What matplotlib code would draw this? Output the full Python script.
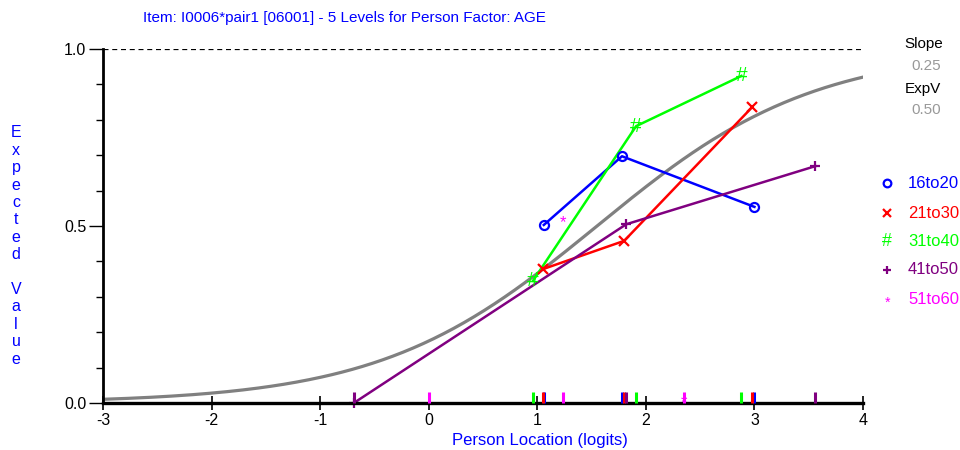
import numpy as np
import matplotlib
matplotlib.use("Agg")
import matplotlib.pyplot as plt
from matplotlib.ticker import MultipleLocator

plt.rcParams['font.family'] = ['Liberation Sans', 'DejaVu Sans']

# Item model
item_location = 1.55
slope_text = "0.25"
expv_text = "0.50"

# Class intervals per person-factor level: mean location and observed mean
groups = ["16to20", "21to30", "31to40", "41to50", "51to60"]
colors = ["#0000FF", "#FF0000", "#00FF00", "#800080", "#FF00FF"]
markers = ["o", "x", "#", "+", "*"]

loc_16to20 = [1.06, 1.78, 3.00]
obs_16to20 = [0.503, 0.697, 0.554]
loc_21to30 = [1.05, 1.80, 2.98]
obs_21to30 = [0.378, 0.458, 0.836]
loc_31to40 = [0.96, 1.91, 2.88]
obs_31to40 = [0.345, 0.782, 0.924]
loc_41to50 = [-0.69, 1.82, 3.56]
obs_41to50 = [0.0, 0.505, 0.669]
loc_51to60 = [0.0, 1.24, 2.35]
obs_51to60 = [np.nan, 0.52, 0.01]

locations = [loc_16to20, loc_21to30, loc_31to40, loc_41to50, loc_51to60]
observed = [obs_16to20, obs_21to30, obs_31to40, obs_41to50, obs_51to60]
draw_lines = [True, True, True, True, False]

x_ticks = [-3, -2, -1, 0, 1, 2, 3, 4]
y_ticks = [0.0, 0.5, 1.0]
y_labels = ["0.0", "0.5", "1.0"]

fig = plt.figure(figsize=(9.6, 4.5), dpi=100)
ax = fig.add_axes([103 / 960, 1 - 403 / 450, 760 / 960, 354 / 450])

# expected score curve
theta = np.linspace(-3, 4, 300)
ev = 1.0 / (1.0 + np.exp(-(theta - item_location)))
ax.plot(theta, ev, color="#808080", lw=2.3, zorder=2)

# upper asymptote
ax.axhline(1.0, color="black", lw=0.9, ls=(0, (4, 3)), zorder=1)


def draw_marker(x, y, mk, col, trans=None, size=1.0):
    """Draw a level symbol at (x, y)."""
    kw = {} if trans is None else {"transform": trans}
    if mk == "o":
        ax.plot([x], [y], ls="none", marker="o", ms=6.5 * size, mfc="none",
                mec=col, mew=1.6, zorder=4, clip_on=False, **kw)
    elif mk in ("x", "+"):
        ax.plot([x], [y], ls="none", marker=mk, ms=7 * size, mec=col,
                mew=1.6, zorder=4, clip_on=False, **kw)
    else:
        fs = (15 if mk == "#" else 12) * size
        ax.text(x, y, mk, color=col, fontsize=fs, ha="center",
                va="center", zorder=4, clip_on=False, **kw)


for name, col, mk, xs, ys, dl in zip(groups, colors, markers, locations,
                                     observed, draw_lines):
    xs = np.asarray(xs, float)
    ys = np.asarray(ys, float)
    if dl:
        ax.plot(xs, ys, color=col, lw=1.8, zorder=3, clip_on=False)
    for xv, yv in zip(xs, ys):
        if np.isfinite(yv):
            draw_marker(xv, yv - 0.01 if mk == "*" else yv, mk, col)
    # location rug along the x axis
    for xv in xs:
        ax.plot([xv, xv], [0.0, 0.03], color=col, lw=2.2, zorder=5,
                solid_capstyle="butt", clip_on=False)

ax.set_xlim(-3, 4)
ax.set_ylim(0, 1)

for s in ["top", "right"]:
    ax.spines[s].set_visible(False)
ax.spines["left"].set_linewidth(2.0)
ax.spines["bottom"].set_linewidth(2.4)
ax.spines["bottom"].set_zorder(4.5)

ax.set_xticks(x_ticks)
ax.set_xticklabels([str(t) for t in x_ticks])
ax.tick_params(axis="x", direction="inout", length=10, width=1.2,
               labelsize=11.5, pad=2, colors="black")
ax.set_yticks(y_ticks)
ax.set_yticklabels(y_labels)
ax.yaxis.set_minor_locator(MultipleLocator(0.1))
ax.tick_params(axis="y", which="major", direction="out", length=10,
               width=1.0, labelsize=11.5, pad=2, colors="black")
ax.tick_params(axis="y", which="minor", direction="out", length=5,
               width=1.0)

blue = "#0000FF"
fig.text(143 / 960, 1 - 18 / 450,
         "Item: I0006*pair1 [06001] - 5 Levels for Person Factor: AGE",
         color=blue, fontsize=11, ha="left", va="center")
fig.text(540 / 960, 1 - 440 / 450, "Person Location (logits)",
         color=blue, fontsize=12, ha="center", va="center")
ylab = "\n".join(list("Expected") + [" "] + list("Value"))
fig.text(16 / 960, 1 - 246 / 450, ylab, color=blue, fontsize=11.5,
         ha="center", va="center", linespacing=1.2,
         multialignment="center")

# slope / expected value readout
fig.text(943 / 960, 1 - 44 / 450, "Slope", color="black", fontsize=11,
         ha="right", va="center")
fig.text(941 / 960, 1 - 66 / 450, slope_text, color="#999999", fontsize=11,
         ha="right", va="center")
fig.text(941 / 960, 1 - 89 / 450, "ExpV", color="black", fontsize=11,
         ha="right", va="center")
fig.text(941 / 960, 1 - 110 / 450, expv_text, color="#999999", fontsize=11,
         ha="right", va="center")

# legend of levels
leg_y = [183, 213, 242, 270, 299]
for name, col, mk, yy in zip(groups, colors, markers, leg_y):
    fy = 1 - yy / 450
    draw_marker(887 / 960, fy - 0.008 if mk == "*" else fy, mk, col,
                trans=fig.transFigure, size=0.85)
    fig.text(908 / 960, fy, name, color=col, fontsize=12, ha="left",
             va="center")

fig.savefig("out.png", dpi=100)
